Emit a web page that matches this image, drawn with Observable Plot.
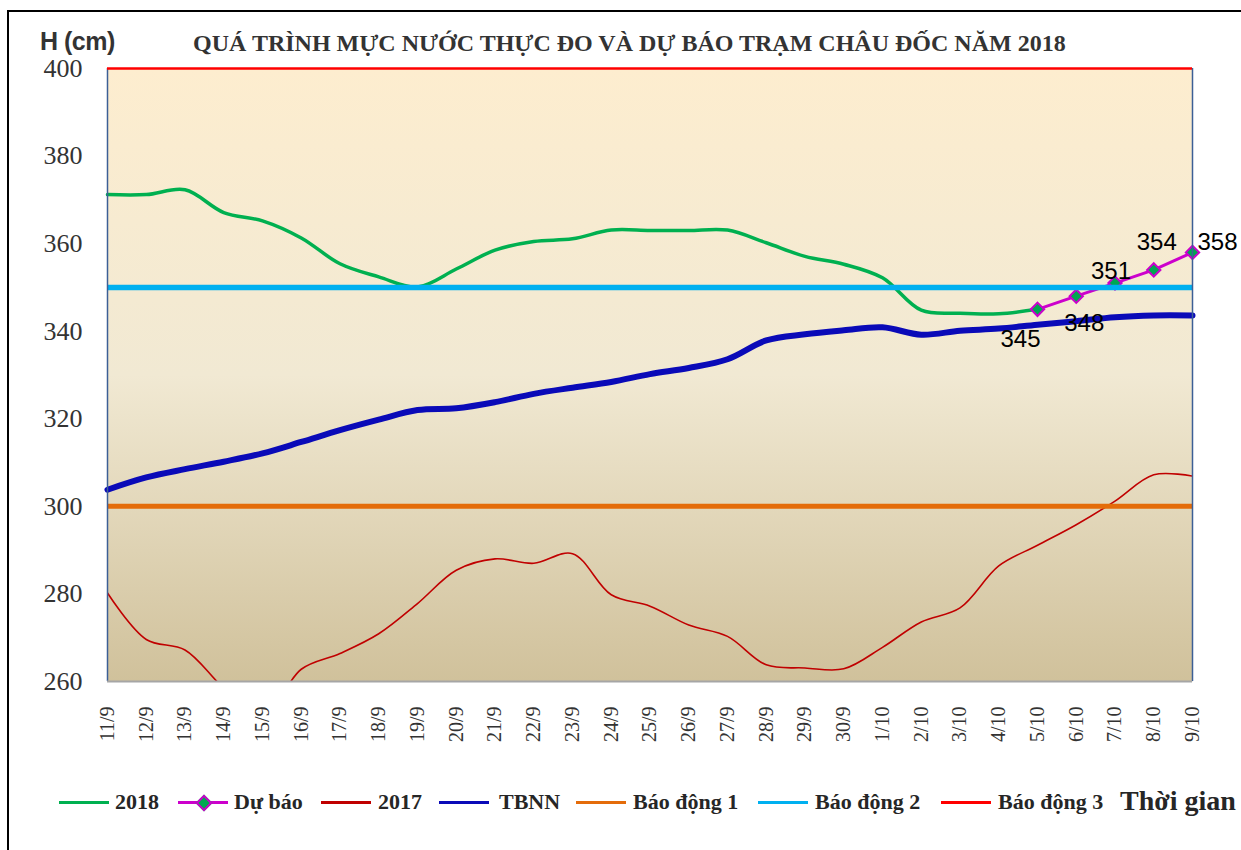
<!DOCTYPE html>
<html>
<head>
<meta charset="utf-8">
<script src="https://cdn.jsdelivr.net/npm/d3@7"></script>
<script src="https://cdn.jsdelivr.net/npm/@observablehq/plot@0.6"></script>
<style>
  body { margin:0; background:#fff; width:1241px; height:850px; overflow:hidden; position:relative; }
  #border { position:absolute; left:7px; top:10px; width:1300px; height:900px; border-top:2px solid #000; border-left:2px solid #000; }
  #ylab { position:absolute; left:40px; top:27px; font:bold 25px "Liberation Sans", sans-serif; color:#333; white-space:nowrap; letter-spacing:-0.5px; }
  #title { position:absolute; left:193px; top:30px; font:bold 24px "Liberation Serif", serif; color:#333; white-space:nowrap; }
  #chart { position:absolute; left:0; top:0; }
  .sw { position:absolute; height:3px; }
  .lt { position:absolute; font:bold 22px "Liberation Serif", serif; color:#262626; white-space:nowrap; line-height:24px; }
  #xlab { position:absolute; left:1120px; top:785px; font:bold 28px "Liberation Serif", serif; color:#262626; white-space:nowrap; }
</style>
</head>
<body>
<div id="border"></div>
<div id="ylab">H (cm)</div>
<div id="title">QUÁ TRÌNH MỰC NƯỚC THỰC ĐO VÀ DỰ BÁO TRẠM CHÂU ĐỐC NĂM 2018</div>
<div id="chart"></div>
<div id="legend"></div>
<div id="xlab">Thời gian</div>
<script>
// ---- data ----
const dates = ["11/9","12/9","13/9","14/9","15/9","16/9","17/9","18/9","19/9","20/9",
  "21/9","22/9","23/9","24/9","25/9","26/9","27/9","28/9","29/9","30/9",
  "1/10","2/10","3/10","4/10","5/10","6/10","7/10","8/10","9/10"];
const h2018 = [371.2,371.2,372.3,367.1,365.2,361.3,355.4,352.4,350.1,354.2,
  358.5,360.5,361.1,363.1,363.0,363.0,363.1,360.2,357.1,355.3,
  352.2,344.8,344.1,344.0,345.0];
const forecastDates = ["5/10","6/10","7/10","8/10","9/10"];
const forecast = [345,348,351,354,358];
const h2017 = [280.2,269.6,267.2,258.5,252.0,262.8,266.4,270.9,277.8,285.4,
  288.0,287.0,289.2,279.8,277.2,272.9,270.3,263.8,263.1,262.9,
  267.8,273.6,276.8,286.4,291.1,295.8,301.2,307.2,306.9];
const tbnn = [303.8,306.6,308.5,310.2,312.1,314.7,317.4,319.8,322.0,322.4,
  323.8,325.7,327.1,328.4,330.2,331.6,333.6,337.9,339.3,340.2,
  340.9,339.2,340.1,340.6,341.5,342.3,343.2,343.6,343.6];
const alarm1 = 300, alarm2 = 350, alarm3 = 400;
const yTicks = [260,280,300,320,340,360,380,400];
const legendLabels = ["2018","Dự báo","2017","TBNN","Báo động 1","Báo động 2","Báo động 3"];

// ---- styles ----
const C = {g:"#00b050", m:"#cc00cc", r17:"#c00000", b:"#0a0ab8", o:"#e46c0a", c:"#00b0f0", r:"#ff0000"};
const SERIF = "'Liberation Serif', 'Times New Roman', serif";
const SANS = "'Liberation Sans', Arial, sans-serif";
const labelOffsets = [[-17,30],[8,27],[-4,-12],[3,-28],[25,-10]];

const s2018 = h2018.map((v,i)=>({x:dates[i], y:v}));
const sFc = forecast.map((v,i)=>({x:forecastDates[i], y:v}));
const s2017 = h2017.map((v,i)=>({x:dates[i], y:v}));
const sTb = tbnn.map((v,i)=>({x:dates[i], y:v}));

const labelMarks = sFc.map((d,i)=>Plot.text([d], {x:"x", y:"y", text:d=>String(d.y),
  dx:labelOffsets[i][0], dy:labelOffsets[i][1], fontSize:24, fontFamily:SANS, fill:"#000"}));

const plot = Plot.plot({
  width:1241, height:770,
  marginLeft:107, marginRight:49, marginTop:68, marginBottom:89,
  style:{color:"#333", background:"transparent", overflow:"visible", fontFamily:SERIF},
  x:{type:"point", domain:dates, padding:0, round:false},
  y:{domain:[260,400]},
  marks:[
    Plot.frame({fill:"url(#bgGrad)", stroke:null}),
    Plot.line(s2018, {x:"x", y:"y", stroke:C.g, strokeWidth:3.5, curve:"catmull-rom"}),
    Plot.line(sFc, {x:"x", y:"y", stroke:C.m, strokeWidth:3}),
    Plot.dot(sFc, {x:"x", y:"y", symbol:"diamond2", r:6, fill:"#00a651", stroke:C.m, strokeWidth:2}),
    Plot.line(s2017, {x:"x", y:"y", stroke:C.r17, strokeWidth:1.6, curve:"catmull-rom", clip:true}),
    Plot.line(sTb, {x:"x", y:"y", stroke:C.b, strokeWidth:6, curve:"catmull-rom"}),
    Plot.ruleY([alarm1], {stroke:C.o, strokeWidth:5}),
    Plot.ruleY([alarm2], {stroke:C.c, strokeWidth:5.5}),
    Plot.ruleX([dates[0]], {stroke:"#3c5f96", strokeWidth:1.5}),
    Plot.ruleX([dates[dates.length-1]], {stroke:"#3c5f96", strokeWidth:1.5}),
    Plot.ruleY([260], {stroke:"#a6a6a6", strokeWidth:2}),
    Plot.ruleY([alarm3], {stroke:C.r, strokeWidth:2.5}),
    Plot.axisY({ticks:yTicks, tickSize:0, tickPadding:25, fontSize:26, fontFamily:SERIF, fill:"#333", tickFormat:d=>String(d), label:null}),
    Plot.axisX({tickRotate:-90, tickSize:0, tickPadding:25, fontSize:20, fontFamily:SERIF, fill:"#333", label:null}),
    ...labelMarks
  ]
});
d3.select(plot).insert("defs", ":first-child").html(
  `<linearGradient id="bgGrad" x1="0" y1="0" x2="0" y2="1">
     <stop offset="0" stop-color="#fdedcf"/>
     <stop offset="0.5" stop-color="#f1e9d3"/>
     <stop offset="1" stop-color="#d0c19b"/>
   </linearGradient>`);
document.getElementById("chart").appendChild(plot);

// legend
const legColors = [C.g, C.m, C.r17, C.b, C.o, C.c, C.r];
const swX = [59,178,321,439,576,758,941];
const txX = [115,234,378,499,633,815,998];
const leg = document.getElementById("legend");
legendLabels.forEach((lab,i)=>{
  const sw = document.createElement("div");
  sw.className = "sw";
  sw.style.left = swX[i]+"px"; sw.style.top = "801px"; sw.style.width = "50px";
  sw.style.background = legColors[i];
  leg.appendChild(sw);
  if (i === 1) {
    const dm = document.createElement("div");
    dm.style.cssText = `position:absolute;left:${swX[i]+20}px;top:797px;width:8px;height:8px;background:#00a651;border:2px solid ${C.m};transform:rotate(45deg);`;
    leg.appendChild(dm);
  }
  const t = document.createElement("div");
  t.className = "lt";
  t.style.left = txX[i]+"px"; t.style.top = "790px";
  t.textContent = lab;
  leg.appendChild(t);
});
</script>
</body>
</html>
